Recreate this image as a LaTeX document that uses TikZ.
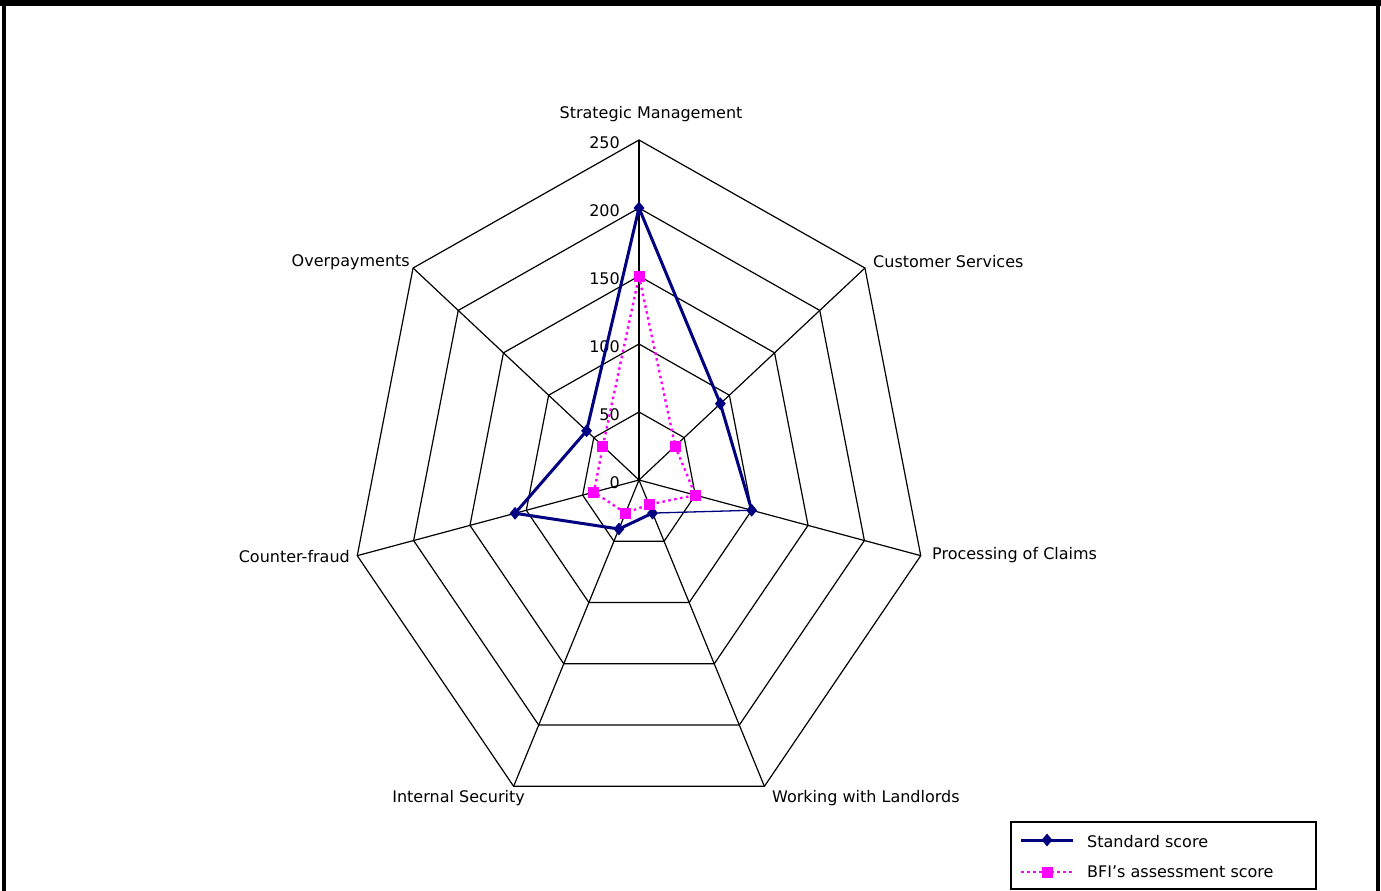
\documentclass[tikz,border=0pt]{standalone}
\usepackage{fontspec}
\setmainfont{DejaVu Sans}[Ligatures=ResetAll]
\usetikzlibrary{shapes.geometric}
\definecolor{stdblue}{RGB}{0,0,128}
\definecolor{bfimag}{RGB}{255,0,255}
\begin{document}
\begin{tikzpicture}[x=1pt,y=-1pt,
  grid/.style={black,line width=1.2pt,line join=miter},
  lbl/.style={font=\fontsize{16}{19}\selectfont,inner sep=0pt},
  stdline/.style={stdblue,line width=3pt,line join=round},
  stdthin/.style={stdblue,line width=1.3pt},
  bfiline/.style={bfimag,line width=2.4pt,dash pattern=on 2.5pt off 3.5pt},
  stdmark/.style={diamond,fill=stdblue,inner sep=0pt,minimum width=11pt,minimum height=13pt},
  bfimark/.style={rectangle,fill=bfimag,inner sep=0pt,minimum size=11pt}]

% page and frame
\useasboundingbox (0,0) rectangle (1381,891);
\fill[white] (0,0) rectangle (1381,891);
\fill[black] (0,0) rectangle (1381,6.5);
\fill[black] (2,0) rectangle (6,891);
\fill[black] (1375.5,0) rectangle (1380,891);

% radar geometry: centre, horizontal and vertical radius of the 250 ring
\def\cx{639}
\def\cy{480}
\def\rx{289}
\def\ry{340}
\newcommand\radarpt[3]{%
  \coordinate (#1) at ({\cx+(#3/250)*\rx*sin(#2*360/7)},{\cy-(#3/250)*\ry*cos(#2*360/7)});}

\coordinate (c) at (\cx,\cy);

% rings
\foreach \v in {50,100,...,250} {
  \draw[grid] ({\cx},{\cy-(\v/250)*\ry})
    \foreach \k in {1,...,6} { -- ({\cx+(\v/250)*\rx*sin(\k*360/7)},{\cy-(\v/250)*\ry*cos(\k*360/7)}) }
    -- cycle;
}

% spokes
\foreach \k in {0,...,6} { \radarpt{o\k}{\k}{250} }
\foreach \k in {1,...,6} { \draw[grid] (c) -- (o\k); }
\draw[black,line width=2pt] (c) -- (o0);
\fill[black] (c) circle (1.8pt);

% value labels
\foreach \v in {0,50,...,250} {
  \node[lbl,anchor=east] (v\v) at (620,{\cy-(\v/250)*\ry+3}) {\v};
}

% category labels
\node[lbl] (l0) at (651,114) {Strategic Management};
\node[lbl,anchor=west] (l1) at (873,262) {Customer Services};
\node[lbl,anchor=west] (l2) at (932,555) {Processing of Claims};
\node[lbl,anchor=west] (l3) at (772,798) {Working with Landlords};
\node[lbl,anchor=east] (l4) at (525,798) {Internal Security};
\node[lbl,anchor=east] (l5) at (350,557) {Counter-fraud};
\node[lbl,anchor=east] (l6) at (410,262) {Overpayments};

% data: standard score
\radarpt{s0}{0}{200}
\radarpt{s1}{1}{90}
\radarpt{s2}{2}{100}
\radarpt{s3}{3}{27}
\radarpt{s4}{4}{40}
\radarpt{s5}{5}{110}
\radarpt{s6}{6}{58}
% data: BFI's assessment score
\radarpt{b0}{0}{150}
\radarpt{b1}{1}{40}
\radarpt{b2}{2}{50}
\radarpt{b3}{3}{20}
\radarpt{b4}{4}{27}
\radarpt{b5}{5}{40}
\radarpt{b6}{6}{40}

\draw[stdline] (s2) -- (s1) -- (s0) -- (s6) -- (s5) -- (s4) -- (s3);
\draw[stdthin] (s2) -- (s3);
\foreach \k in {0,...,6} { \node[stdmark] (sm\k) at (s\k) {}; }

\draw[bfiline] (b0) -- (b1) -- (b2) -- (b3) -- (b4) -- (b5) -- (b6) -- cycle;
\foreach \k in {0,...,6} { \node[bfimark] (bm\k) at (b\k) {}; }

% legend
\node[draw=black,line width=1.2pt,minimum width=305pt,minimum height=67pt,inner sep=0pt] (legend) at (1163.5,855.5) {};
\coordinate (ls1) at (1021,840);
\coordinate (le1) at (1073,840);
\coordinate (ls2) at (1021,872);
\coordinate (le2) at (1073,872);
\draw[stdline] (ls1) -- (le1);
\node[stdmark] (lm1) at (1047,840) {};
\draw[bfimag,line width=1.6pt,dash pattern=on 2.5pt off 3.5pt] (ls2) -- (le2);
\node[bfimark] (lm2) at (1047,872) {};
\node[lbl,anchor=west] (lt1) at (1087,842) {Standard score};
\node[lbl,anchor=west] (lt2) at (1087,872) {BFI's assessment score};
\end{tikzpicture}
\end{document}
